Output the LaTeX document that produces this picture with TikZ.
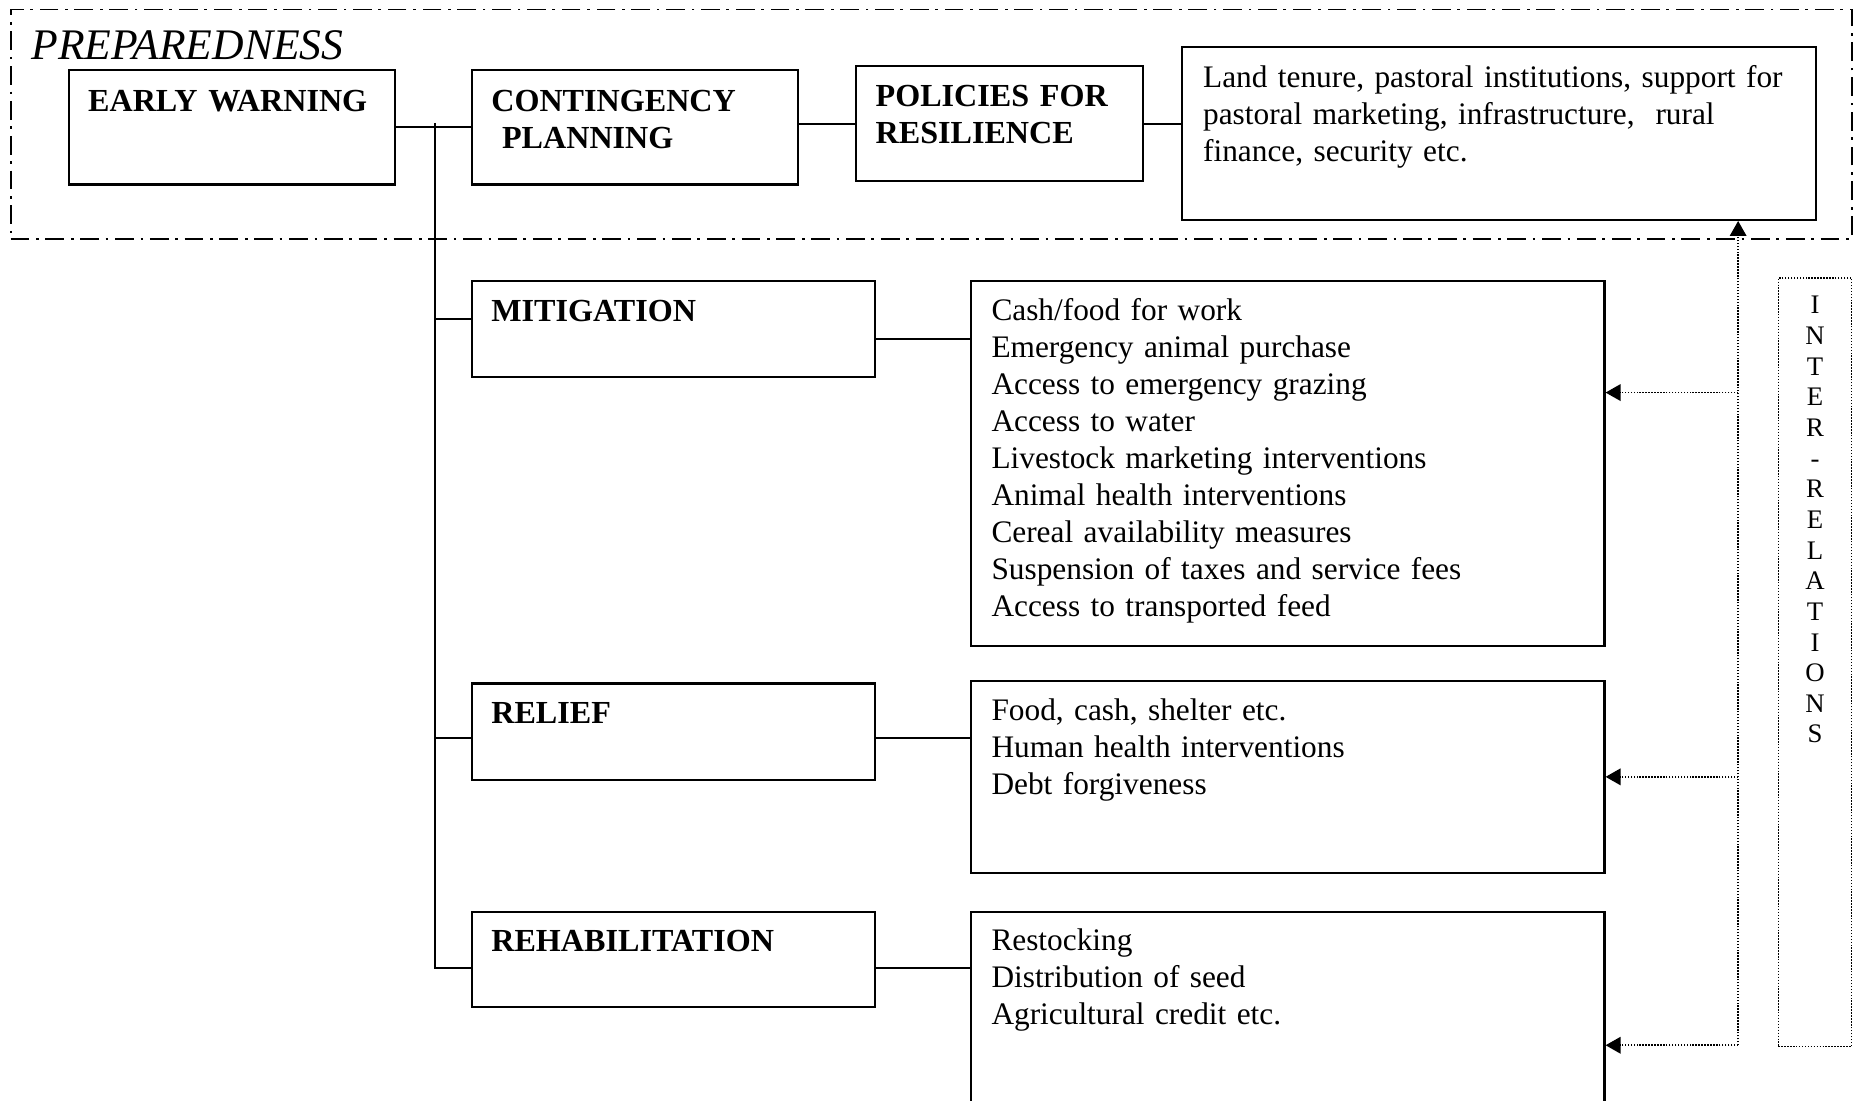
\documentclass[tikz,border=0pt]{standalone}
\usepackage{fontspec}
\setmainfont{Liberation Serif}
\usepackage{tikz}
\usetikzlibrary{arrows.meta,positioning,fit}

\begin{document}
\begin{tikzpicture}[
    x=0.4416pt, y=-0.4416pt,
    box/.style={rectangle, draw, line width=0.8pt, inner sep=0pt},
    frame/.style={rectangle, draw, inner sep=0pt, line width=0.65pt, dash pattern=on 7pt off 2.5pt on 1pt off 2.5pt},
    dotbox/.style={rectangle, draw, inner sep=0pt, line width=0.55pt, dash pattern=on 0.55pt off 0.55pt},
    txt/.style={inner sep=0pt, anchor=base west, align=left, text width=#1, font=\fontsize{11.7}{13.8}\selectfont},
    head/.style={txt=#1, font=\fontsize{12}{13.8}\selectfont\bfseries},
    link/.style={line width=0.75pt},
    rel/.style={line width=0.6pt, dash pattern=on 0.55pt off 0.55pt, -{Triangle[length=5.6pt,width=6.2pt]}}
]
\useasboundingbox (0,0) rectangle (1568,931);
\clip (0,0) rectangle (1568,931);

% preparedness frame
\node[frame, fit={(9,8)(1566,202)}] (prepframe) {};
\node[inner sep=0pt, anchor=base west, font=\fontsize{16.3}{18}\selectfont\itshape] (prep) at ([shift={(18,43)}]prepframe.north west) {PREPAREDNESS};

% top row
\node[box, fit={(58,59)(334,156)}] (ew) {};
\node[box, fit={(399,59)(675,156)}] (cp) {};
\node[box, fit={(724,56)(967,153)}] (pol) {};
\node[box, fit={(1000,40)(1536,186)}] (land) {};
\node[head=140pt] (ewtxt) at ([shift={(17,36)}]ew.north west) {EARLY WARNING};
\node[head=140pt] (cptxt) at ([shift={(17,36)}]cp.north west) {CONTINGENCY\\\ PLANNING};
\node[head=140pt] (poltxt) at ([shift={(17,35)}]pol.north west) {POLICIES FOR\\RESILIENCE};
\node[txt=260pt] (landtxt) at ([shift={(18,35)}]land.north west) {Land tenure, pastoral institutions, support for\\pastoral marketing, infrastructure,\ \ rural\\finance, security etc.};

% responses
\node[box, fit={(399,238)(740,319)}] (mit) {};
\node[box, fit={(821,238)(1357,546)}] (mitlist) {};
\node[box, fit={(399,578)(740,660)}] (relief) {};
\node[box, fit={(821,576)(1357,738)}] (relieflist) {};
\node[box, fit={(399,771)(740,852)}] (rehab) {};
\node[box, fit={(821,771)(1357,945)}] (rehablist) {};

\node[head=160pt] (mittxt) at ([shift={(17,35)}]mit.north west) {MITIGATION};
\node[head=160pt] (relieftxt) at ([shift={(17,35)}]relief.north west) {RELIEF};
\node[head=160pt] (rehabtxt) at ([shift={(17,35)}]rehab.north west) {REHABILITATION};

\node[txt=230pt] (mitlisttxt) at ([shift={(18,34)}]mitlist.north west) {Cash/food for work\\Emergency animal purchase\\Access to emergency grazing\\Access to water\\Livestock marketing interventions\\Animal health interventions\\Cereal availability measures\\Suspension of taxes and service fees\\Access to transported feed};
\node[txt=230pt] (relieflisttxt) at ([shift={(18,34)}]relieflist.north west) {Food, cash, shelter etc.\\Human health interventions\\Debt forgiveness};
\node[txt=230pt] (rehablisttxt) at ([shift={(18,34)}]rehablist.north west) {Restocking\\Distribution of seed\\Agricultural credit etc.};

% inter-relations
\node[dotbox, fit={(1504,235)(1566,885)}] (inter) {};
\node[inner sep=0pt, anchor=base, text width=12pt, align=center, font=\fontsize{10}{11.45}\selectfont] (intertxt) at ([shift={(0,31)}]inter.north) {I\\N\\T\\E\\R\\-\\R\\E\\L\\A\\T\\I\\O\\N\\S};

% connectors
\coordinate (trunk) at (368,104);
\coordinate (mitin) at ([shift={(0,-8.5)}]mit.west);
\coordinate (mitout) at ([shift={(0,8.5)}]mit.east);
\coordinate (relin) at ([shift={(0,5)}]relief.west);
\coordinate (rehin) at ([shift={(0,7.5)}]rehab.west);
\coordinate (mitarr) at ([shift={(0,-60)}]mitlist.east);
\coordinate (bus) at (1470,884);

\draw[link] (ew) -- (cp);
\draw[link] (cp.east |- pol.west) -- (pol.west);
\draw[link] (pol.east) -- (pol.east -| land.west);
\draw[link] (trunk) |- (rehin);
\draw[link] (trunk |- mitin) -- (mitin);
\draw[link] (trunk |- relin) -- (relin);
\draw[link] (mitout) -- (mitout -| mitlist.west);
\draw[link] (relin -| relief.east) -- (relin -| relieflist.west);
\draw[link] (rehin -| rehab.east) -- (rehin -| rehablist.west);

\draw[rel] (bus) -- (bus |- land.south);
\draw[rel] (bus |- mitarr) -- (mitarr);
\draw[rel] (bus |- relieflist.east) -- (relieflist.east);
\draw[rel] (bus) -- (bus -| rehablist.east);
\end{tikzpicture}
\end{document}
